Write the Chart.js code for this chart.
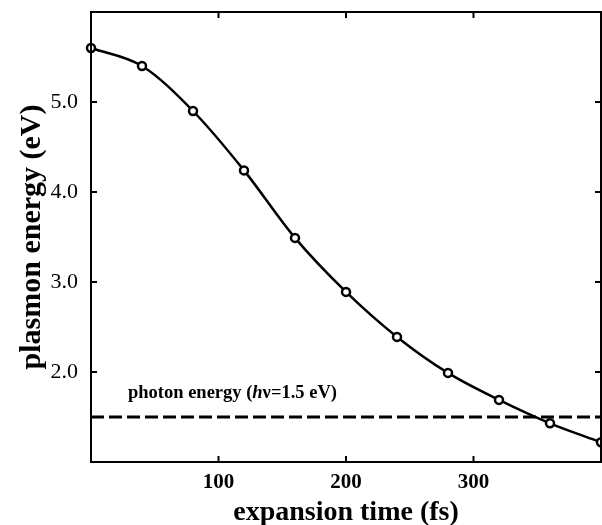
<!DOCTYPE html>
<html>
<head>
<meta charset="utf-8">
<script src="https://cdn.jsdelivr.net/npm/chart.js@4/dist/chart.umd.min.js"></script>
<style>
  html, body { margin: 0; padding: 0; background: #fff; }
  #wrap { width: 602px; height: 525px; }
</style>
</head>
<body>
<div id="wrap"><canvas id="plasmon-chart"></canvas></div>
<script>
const expansionTimes = [0, 40, 80, 120, 160, 200, 240, 280, 320, 360, 400];
const plasmonEnergies = [5.60, 5.40, 4.90, 4.24, 3.49, 2.89, 2.39, 1.99, 1.69, 1.43, 1.22];
const photonEnergy = 1.5;
const xTickValues = [100, 200, 300];
const yTickValues = [2.0, 3.0, 4.0, 5.0];

const serif = '"Liberation Serif", "Times New Roman", serif';

// box frame with inward tick marks on all four sides
const framePlugin = {
    id: 'frame',
    afterDatasetsDraw(chart) {
        const {ctx, chartArea: a, scales: {x, y}} = chart;
        ctx.save();
        ctx.strokeStyle = '#000';
        ctx.lineWidth = 2;
        ctx.strokeRect(a.left, a.top, a.right - a.left, a.bottom - a.top);
        const len = 6;
        ctx.beginPath();
        xTickValues.forEach(v => {
            const px = x.getPixelForValue(v);
            ctx.moveTo(px, a.bottom); ctx.lineTo(px, a.bottom - len);
            ctx.moveTo(px, a.top); ctx.lineTo(px, a.top + len);
        });
        yTickValues.forEach(v => {
            const py = y.getPixelForValue(v);
            ctx.moveTo(a.left, py); ctx.lineTo(a.left + len, py);
            ctx.moveTo(a.right, py); ctx.lineTo(a.right - len, py);
        });
        ctx.stroke();
        ctx.restore();
    }
};

// "photon energy (hν=1.5 eV)" label above the dashed line
const photonLabel = {
    id: 'photonLabel',
    afterDatasetsDraw(chart) {
        const {ctx, scales: {x, y}} = chart;
        const parts = [
            ['photon energy (', 'bold'],
            ['h', 'italic bold'],
            ['\u03bd=1.5 eV)', 'bold']
        ];
        let px = x.getPixelForValue(29);
        const py = y.getPixelForValue(1.71);
        ctx.save();
        ctx.fillStyle = '#000';
        ctx.textBaseline = 'alphabetic';
        parts.forEach(([txt, style]) => {
            ctx.font = style + ' 18.5px ' + serif;
            ctx.fillText(txt, px, py);
            px += ctx.measureText(txt).width;
        });
        ctx.restore();
    }
};

new Chart(document.getElementById('plasmon-chart').getContext('2d'), {
    type: 'line',
    data: {
        datasets: [{
            label: 'plasmon energy',
            data: expansionTimes.map((t, i) => ({x: t, y: plasmonEnergies[i]})),
            borderColor: '#000',
            borderWidth: 2.5,
            backgroundColor: '#fff',
            pointBackgroundColor: '#fff',
            pointBorderColor: '#000',
            pointBorderWidth: 2.5,
            pointRadius: 4,
            cubicInterpolationMode: 'monotone',
            clip: false
        }, {
            label: 'photon energy',
            data: [{x: 0, y: photonEnergy}, {x: 400, y: photonEnergy}],
            borderColor: '#000',
            borderWidth: 3,
            borderDash: [13, 5],
            pointRadius: 0
        }]
    },
    options: {
        responsive: true,
        maintainAspectRatio: false,
        animation: false,
        layout: { autoPadding: false, padding: { top: 12, right: 1, left: 0, bottom: 0 } },
        plugins: {
            legend: { display: false },
            tooltip: { enabled: false }
        },
        scales: {
            x: {
                type: 'linear',
                min: 0,
                max: 400,
                grid: { display: false, drawTicks: false },
                border: { display: false },
                afterBuildTicks: s => { s.ticks = xTickValues.map(v => ({value: v})); },
                ticks: {
                    padding: 8,
                    color: '#000',
                    font: { family: serif, size: 21, weight: 'bold' },
                    callback: v => String(v)
                },
                title: {
                    display: true,
                    text: 'expansion time (fs)',
                    color: '#000',
                    padding: 0,
                    font: { family: serif, size: 28, weight: 'bold', lineHeight: 0.9 }
                },
                afterFit: s => {
                    s.height = 63;
                    s.paddingLeft = 0;
                    s.paddingRight = 0;
                }
            },
            y: {
                min: 1,
                max: 6,
                grid: { display: false, drawTicks: false },
                border: { display: false },
                afterBuildTicks: s => { s.ticks = yTickValues.map(v => ({value: v})); },
                ticks: {
                    padding: 13,
                    color: '#000',
                    font: { family: serif, size: 22 },
                    callback: v => v.toFixed(1)
                },
                title: {
                    display: true,
                    text: 'plasmon energy (eV)',
                    color: '#000',
                    padding: { top: 14 },
                    font: { family: serif, size: 30, weight: 'bold' }
                },
                afterFit: s => {
                    s.width = 91;
                    s.paddingTop = 0;
                    s.paddingBottom = 0;
                }
            }
        }
    },
    plugins: [framePlugin, photonLabel]
});
</script>
</body>
</html>
